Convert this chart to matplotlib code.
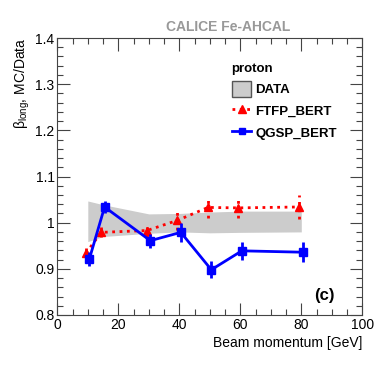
import matplotlib
matplotlib.use('Agg')
import matplotlib.pyplot as plt
from matplotlib.ticker import MultipleLocator
from matplotlib.patches import Patch
from matplotlib.lines import Line2D

plt.rcParams['font.family'] = ['Liberation Sans', 'DejaVu Sans']

## --- Data
momentum = [10, 15, 30, 40, 50, 60, 80]

# DATA band (grey)
data_hi = [1.047, 1.039, 1.019, 1.020, 1.023, 1.025, 1.025]
data_lo = [0.959, 0.970, 0.977, 0.980, 0.978, 0.979, 0.980]

# FTFP_BERT (red triangles)
ftfp = [0.934, 0.979, 0.983, 1.005, 1.033, 1.032, 1.034]
ftfp_err = [0.011, 0.011, 0.014, 0.021, 0.022, 0.022, 0.025]

# QGSP_BERT (blue squares)
qgsp = [0.921, 1.034, 0.961, 0.979, 0.898, 0.939, 0.936]
qgsp_err = [0.015, 0.014, 0.015, 0.020, 0.018, 0.020, 0.022]

## --- Plot
fig = plt.figure(figsize=(3.82, 3.66), dpi=100)
ax = fig.add_axes([57.3 / 382, 1 - 315 / 366, 305 / 382, 277 / 366])

ax.fill_between(momentum, data_lo, data_hi, color='#cccccc', lw=0, zorder=1)

# small horizontal shift of the MC points, as in the original
x_red = [m - 0.6 for m in momentum]
x_blue = [m + 0.5 for m in momentum]

eb = ax.errorbar(x_red, ftfp, yerr=ftfp_err, color='red', ls=':', lw=2,
                 marker='^', ms=5.5, elinewidth=2, capsize=0, zorder=3)
eb[2][0].set_linestyle(':')
ax.errorbar(x_blue, qgsp, yerr=qgsp_err, color='blue', ls='-', lw=2,
            marker='s', ms=5.5, elinewidth=2, capsize=0, zorder=4)

ax.set_xlim(0, 100)
ax.set_ylim(0.8, 1.4)
ax.xaxis.set_major_locator(MultipleLocator(20))
ax.xaxis.set_minor_locator(MultipleLocator(5))
ax.yaxis.set_minor_locator(MultipleLocator(0.02))
ax.set_yticks([0.8, 0.9, 1.0, 1.1, 1.2, 1.3, 1.4])
ax.set_yticklabels(['0.8', '0.9', '1', '1.1', '1.2', '1.3', '1.4'])
ax.tick_params(which='both', direction='in', top=True, right=True,
               labelsize=10, width=0.8, color='#444444')
ax.tick_params(which='major', length=9, pad=2)
ax.tick_params(which='minor', length=4.5)
for s in ax.spines.values():
    s.set_linewidth(0.8)
    s.set_color('#444444')

ax.set_xlabel('Beam momentum [GeV]', fontsize=10, loc='right', labelpad=3)
ax.set_ylabel('β$_{\\mathregular{long}}$, MC/Data', fontsize=10, loc='top', labelpad=2)

fig.text(228 / 382, 1 - 27 / 366, 'CALICE Fe-AHCAL', color='#999999',
         fontsize=10, fontweight='bold', ha='center', va='center')
ax.text(0.875, 0.07, '(c)', transform=ax.transAxes, fontsize=12,
        fontweight='bold', ha='center', va='center')

handles = [
    Patch(facecolor='#cccccc', edgecolor='#555555', lw=1),
    Line2D([], [], color='red', ls=':', lw=2, marker='^', ms=5.5),
    Line2D([], [], color='blue', ls='-', lw=2, marker='s', ms=5),
]
leg = ax.legend(handles, ['DATA', 'FTFP_BERT', 'QGSP_BERT'], loc='upper left',
                bbox_to_anchor=(0.55, 0.935), frameon=False, title='proton',
                alignment='left', prop={'weight': 'bold', 'size': 9.5},
                handlelength=1.5, handleheight=1.5, handletextpad=0.3,
                labelspacing=0.45, borderpad=0)
leg.get_title().set_fontweight('bold')
leg.get_title().set_fontsize(9.5)

plt.savefig('out.png', dpi=100)
